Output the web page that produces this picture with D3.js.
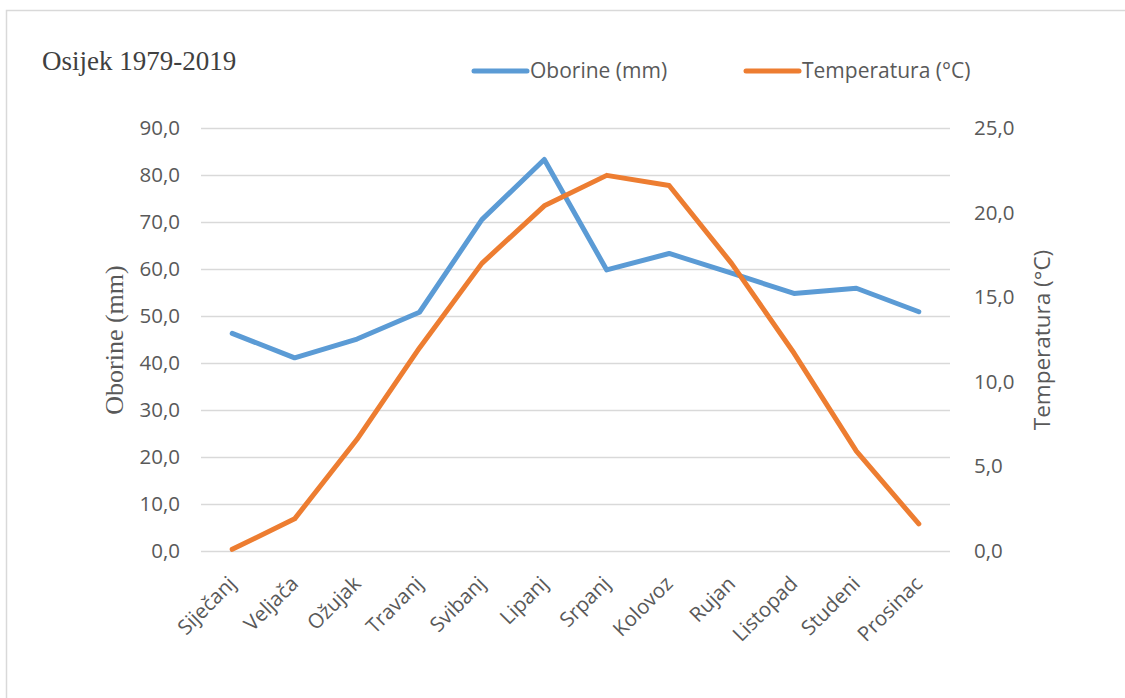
<!DOCTYPE html>
<html lang="hr">
<head>
<meta charset="utf-8">
<title>Osijek 1979-2019</title>
<script src="https://d3js.org/d3.v7.min.js"></script>
<style>
  body { margin: 0; background: #fff; }
  svg { display: block; }
</style>
</head>
<body>
<script>
// data
var months = ["Siječanj", "Veljača", "Ožujak", "Travanj", "Svibanj", "Lipanj",
              "Srpanj", "Kolovoz", "Rujan", "Listopad", "Studeni", "Prosinac"];
var oborine = [46.3, 41.1, 45.1, 50.8, 70.5, 83.3, 59.8, 63.3, 59.1, 54.8, 55.9, 50.9];
var temperatura = [0.1, 1.9, 6.6, 12.0, 17.0, 20.4, 22.2, 21.6, 17.0, 11.7, 5.9, 1.6];
var leftTicks = [0, 10, 20, 30, 40, 50, 60, 70, 80, 90];
var rightTicks = [0, 5, 10, 15, 20, 25];

var W = 1125, H = 698;
var plot = { left: 201, right: 950, top: 128, bottom: 551 };
var sans = "'Open Sans', 'Noto Sans', sans-serif";
var serif = "'Liberation Serif', 'DejaVu Serif', serif";
var textCol = "#595959";
var blue = "#5B9BD5", orange = "#ED7D31";

var fmt = function(v) { return d3.format(".1f")(v).replace(".", ","); };

var svg = d3.select("body").append("svg")
    .attr("width", W)
    .attr("height", H);

// chart frame (runs off the right and bottom)
svg.append("rect")
    .attr("x", 6.5).attr("y", 10.5)
    .attr("width", 1300).attr("height", 900)
    .attr("fill", "none")
    .attr("stroke", "#D9D9D9")
    .attr("stroke-width", 1.5);

var x = d3.scalePoint()
    .domain(months)
    .range([plot.left, plot.right])
    .padding(0.5);

var yL = d3.scaleLinear().domain([0, 90]).range([plot.bottom, plot.top]);
var yR = d3.scaleLinear().domain([0, 25]).range([plot.bottom, plot.top]);

// gridlines
svg.append("g")
    .attr("transform", "translate(" + plot.left + ",0)")
    .call(d3.axisLeft(yL).tickValues(leftTicks).tickSize(-(plot.right - plot.left)).tickFormat(""))
    .call(function(g) { g.select(".domain").remove(); })
    .call(function(g) {
        g.selectAll("line").attr("stroke", "#D9D9D9").attr("stroke-width", 1.5);
    });

// left axis labels
svg.append("g")
    .attr("transform", "translate(" + (plot.left - 21) + ",0)")
    .call(d3.axisLeft(yL).tickValues(leftTicks).tickSize(0).tickPadding(0).tickFormat(fmt))
    .call(function(g) { g.select(".domain").remove(); })
    .call(function(g) {
        g.selectAll("text")
            .attr("font-family", sans)
            .attr("font-size", "20.5px")
            .attr("fill", textCol);
    });

// right axis labels
svg.append("g")
    .attr("transform", "translate(" + (plot.right + 24) + ",0)")
    .call(d3.axisRight(yR).tickValues(rightTicks).tickSize(0).tickPadding(0).tickFormat(fmt))
    .call(function(g) { g.select(".domain").remove(); })
    .call(function(g) {
        g.selectAll("text")
            .attr("font-family", sans)
            .attr("font-size", "20.5px")
            .attr("fill", textCol);
    });

// x axis labels, rotated
svg.append("g")
    .selectAll("text")
    .data(months)
    .enter()
    .append("text")
    .attr("transform", function(d) {
        return "translate(" + (x(d) + 5) + "," + 585 + ") rotate(-45)";
    })
    .attr("text-anchor", "end")
    .attr("font-family", sans)
    .attr("font-size", "20.5px")
    .attr("fill", textCol)
    .text(function(d) { return d; });

// lines
var lineL = d3.line()
    .x(function(d, i) { return x(months[i]); })
    .y(function(d) { return yL(d); });
var lineR = d3.line()
    .x(function(d, i) { return x(months[i]); })
    .y(function(d) { return yR(d); });

svg.append("path")
    .datum(oborine)
    .attr("d", lineL)
    .attr("fill", "none")
    .attr("stroke", blue)
    .attr("stroke-width", 5)
    .attr("stroke-linejoin", "round")
    .attr("stroke-linecap", "round");

svg.append("path")
    .datum(temperatura)
    .attr("d", lineR)
    .attr("fill", "none")
    .attr("stroke", orange)
    .attr("stroke-width", 5)
    .attr("stroke-linejoin", "round")
    .attr("stroke-linecap", "round");

// title
svg.append("text")
    .attr("x", 42).attr("y", 70)
    .attr("font-family", serif)
    .attr("font-size", "27px")
    .attr("fill", "#404040")
    .text("Osijek 1979-2019");

// axis titles
svg.append("text")
    .attr("transform", "translate(123,340) rotate(-90)")
    .attr("text-anchor", "middle")
    .attr("font-family", serif)
    .attr("font-size", "26px")
    .attr("fill", textCol)
    .text("Oborine (mm)");

svg.append("text")
    .attr("transform", "translate(1050,340) rotate(-90)")
    .attr("text-anchor", "middle")
    .attr("font-family", sans)
    .attr("font-size", "22.5px")
    .attr("fill", textCol)
    .text("Temperatura (°C)");

// legend
var legendItems = [
    { name: "Oborine (mm)", color: blue, x: 474 },
    { name: "Temperatura (°C)", color: orange, x: 746 }
];
var leg = svg.append("g").selectAll("g")
    .data(legendItems)
    .enter()
    .append("g")
    .attr("transform", function(d) { return "translate(" + d.x + ",71)"; });

leg.append("line")
    .attr("x1", 0).attr("x2", 53)
    .attr("stroke", function(d) { return d.color; })
    .attr("stroke-width", 5)
    .attr("stroke-linecap", "round");

leg.append("text")
    .attr("x", 56).attr("y", 7)
    .attr("font-family", sans)
    .attr("font-size", "21px")
    .attr("fill", textCol)
    .text(function(d) { return d.name; });
</script>
</body>
</html>
